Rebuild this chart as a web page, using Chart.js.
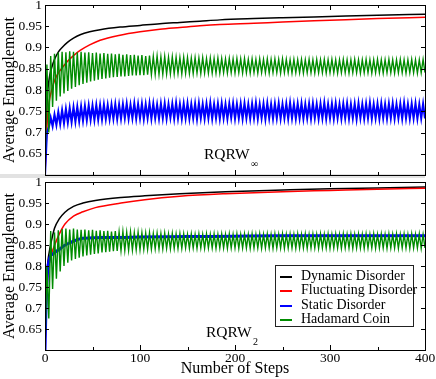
<!DOCTYPE html>
<html>
<head>
<meta charset="utf-8">
<script src="https://cdn.jsdelivr.net/npm/chart.js@4"></script>
<style>
  html, body { margin: 0; padding: 0; background: #fff; }
  #wrap { position: relative; width: 436px; height: 379px; overflow: hidden; font-family: 'Liberation Serif', serif; color: #000; }
  #wrap canvas { position: absolute; left: 0; }
  #gap { position: absolute; left: 0; top: 174px; width: 425px; height: 4px; background: #e2e2e2; }
  .tag { position: absolute; font-size: 15.5px; line-height: 16px; white-space: nowrap; }
  .sub { position: absolute; font-size: 10px; line-height: 10px; }
  #legend { position: absolute; left: 275px; top: 265px; width: 139px; height: 62px; box-sizing: border-box; border: 1px solid #222; background: #fff; }
  #legend div { position: absolute; left: 0; font-size: 14px; line-height: 14px; white-space: nowrap; }
  #legend b { display: inline-block; width: 12px; height: 1.6px; margin: 0 9px 0 4px; vertical-align: middle; }
</style>
</head>
<body>
<div id="wrap">
  <div id="gap"></div>
  <canvas id="topChart" width="436" height="177" style="top:0"></canvas>
  <canvas id="bottomChart" width="436" height="203" style="top:176px"></canvas>
  <div class="tag" style="left:204px; top:146px">RQRW</div>
  <div class="sub" style="left:251px; top:159px">∞</div>
  <div class="tag" style="left:206px; top:324px">RQRW</div>
  <div class="sub" style="left:253px; top:337px">2</div>
  <div id="legend">
    <div style="top:3px"><b style="background:#000"></b>Dynamic Disorder</div>
    <div style="top:17px"><b style="background:#f00"></b>Fluctuating Disorder</div>
    <div style="top:32px"><b style="background:#00f"></b>Static Disorder</div>
    <div style="top:46px"><b style="background:#008c00"></b>Hadamard Coin</div>
  </div>
</div>
<script>
// axis ticks
const xTicks = [0, 50, 100, 150, 200, 250, 300, 350, 400];
const yTicks = [0.6, 0.65, 0.7, 0.75, 0.8, 0.85, 0.9, 0.95, 1];

// smooth curves, upper panel (RQRW_inf)
const topSteps = [0, 1, 2, 3, 5, 7, 10, 14, 18, 23, 30, 37, 47, 58, 79, 100, 121, 142, 163, 184, 220, 250, 300, 350, 400];
const topDynamic = [0.60, 0.70, 0.76, 0.80, 0.835, 0.852, 0.872, 0.889, 0.900, 0.911, 0.922, 0.930, 0.937, 0.942, 0.948, 0.952, 0.956, 0.959, 0.962, 0.965, 0.968, 0.970, 0.973, 0.976, 0.978];
const topFluct = [0.60, 0.66, 0.71, 0.745, 0.78, 0.80, 0.822, 0.840, 0.852, 0.866, 0.881, 0.893, 0.906, 0.917, 0.929, 0.937, 0.943, 0.947, 0.951, 0.954, 0.957, 0.960, 0.964, 0.968, 0.971];

// smooth curves, lower panel (RQRW_2)
const botSteps = [0, 1, 2, 3, 5, 7, 10, 15, 21, 30, 40, 53, 80, 105, 142, 190, 250, 300, 350, 400];
const botDynamic = [0.60, 0.70, 0.78, 0.81, 0.84, 0.862, 0.89, 0.912, 0.928, 0.942, 0.950, 0.956, 0.963, 0.967, 0.972, 0.977, 0.981, 0.984, 0.986, 0.988];
const botFluct = [0.60, 0.68, 0.74, 0.78, 0.812, 0.83, 0.849, 0.876, 0.900, 0.919, 0.929, 0.939, 0.950, 0.958, 0.966, 0.972, 0.977, 0.980, 0.983, 0.985];
const botStaticSteps = [0, 1, 2, 3, 4, 5, 6, 8, 10, 12, 14, 16, 20, 24, 28, 32, 36, 40, 50, 60, 80, 100, 150, 200, 250, 300, 350, 400];
const botStatic = [0.60, 0.70, 0.76, 0.795, 0.81, 0.82, 0.825, 0.828, 0.832, 0.835, 0.838, 0.841, 0.848, 0.853, 0.857, 0.861, 0.864, 0.866, 0.867, 0.868, 0.868, 0.869, 0.870, 0.871, 0.872, 0.872, 0.872, 0.872];

// oscillating curves, one value every 2 steps (0, 2, 4 ... 400)
const oscSteps = Array.from({ length: 201 }, (_, i) => i * 2);

const topHadamard = [
  0.600, 0.860, 0.700, 0.880, 0.760, 0.885, 0.775, 0.888, 0.785, 0.890,
  0.792, 0.889, 0.798, 0.891, 0.803, 0.890, 0.807, 0.889, 0.811, 0.890,
  0.814, 0.888, 0.817, 0.889, 0.820, 0.887, 0.822, 0.888, 0.824, 0.886,
  0.826, 0.887, 0.827, 0.885, 0.829, 0.886, 0.830, 0.884, 0.831, 0.885,
  0.832, 0.883, 0.832, 0.884, 0.833, 0.882, 0.834, 0.883, 0.834, 0.881,
  0.835, 0.882, 0.835, 0.880, 0.836, 0.881, 0.836, 0.879, 0.837, 0.880,
  0.837, 0.878, 0.837, 0.879, 0.838, 0.877, 0.838, 0.878, 0.838, 0.877,
  0.839, 0.876, 0.838, 0.877, 0.839, 0.876, 0.839, 0.875, 0.839, 0.876,
  0.840, 0.875, 0.839, 0.876, 0.840, 0.874, 0.840, 0.875, 0.840, 0.874,
  0.840, 0.875, 0.840, 0.874, 0.841, 0.873, 0.840, 0.874, 0.841, 0.873,
  0.840, 0.874, 0.841, 0.873, 0.840, 0.874, 0.841, 0.872, 0.840, 0.873,
  0.841, 0.872, 0.840, 0.873, 0.841, 0.872, 0.841, 0.873, 0.840, 0.872,
  0.841, 0.873, 0.841, 0.872, 0.840, 0.873, 0.841, 0.872, 0.841, 0.871,
  0.840, 0.872, 0.841, 0.871, 0.841, 0.872, 0.840, 0.871, 0.841, 0.872,
  0.841, 0.871, 0.840, 0.872, 0.841, 0.871, 0.841, 0.872, 0.840, 0.871,
  0.841, 0.872, 0.841, 0.871, 0.840, 0.871, 0.841, 0.872, 0.841, 0.871,
  0.840, 0.871, 0.841, 0.872, 0.841, 0.871, 0.840, 0.871, 0.841, 0.872,
  0.841, 0.871, 0.840, 0.871, 0.841, 0.872, 0.841, 0.871, 0.840, 0.871,
  0.841, 0.872, 0.841, 0.871, 0.840, 0.871, 0.841, 0.872, 0.841, 0.871,
  0.840, 0.871, 0.841, 0.872, 0.841, 0.871, 0.840, 0.871, 0.841, 0.872,
  0.841
];

const topStatic = [
  0.600, 0.700, 0.712, 0.735, 0.715, 0.742, 0.718, 0.748, 0.720, 0.752,
  0.722, 0.755, 0.724, 0.757, 0.725, 0.759, 0.726, 0.760, 0.727, 0.761,
  0.728, 0.762, 0.729, 0.763, 0.730, 0.763, 0.730, 0.764, 0.731, 0.764,
  0.731, 0.765, 0.732, 0.764, 0.732, 0.765, 0.733, 0.766, 0.732, 0.765,
  0.733, 0.766, 0.734, 0.767, 0.733, 0.765, 0.734, 0.768, 0.733, 0.766,
  0.734, 0.767, 0.732, 0.766, 0.734, 0.768, 0.733, 0.767, 0.734, 0.765,
  0.733, 0.767, 0.734, 0.768, 0.733, 0.766, 0.735, 0.767, 0.733, 0.769,
  0.734, 0.766, 0.733, 0.767, 0.734, 0.768, 0.733, 0.766, 0.734, 0.767,
  0.732, 0.768, 0.734, 0.766, 0.733, 0.767, 0.734, 0.769, 0.733, 0.766,
  0.734, 0.767, 0.733, 0.768, 0.734, 0.766, 0.733, 0.767, 0.735, 0.768,
  0.733, 0.766, 0.734, 0.767, 0.733, 0.768, 0.734, 0.766, 0.733, 0.767,
  0.734, 0.769, 0.733, 0.766, 0.734, 0.767, 0.732, 0.768, 0.734, 0.766,
  0.733, 0.767, 0.734, 0.768, 0.733, 0.766, 0.734, 0.767, 0.733, 0.769,
  0.734, 0.766, 0.733, 0.767, 0.734, 0.768, 0.733, 0.766, 0.734, 0.767,
  0.733, 0.768, 0.734, 0.766, 0.733, 0.767, 0.734, 0.769, 0.733, 0.766,
  0.734, 0.767, 0.733, 0.768, 0.734, 0.766, 0.733, 0.767, 0.734, 0.768,
  0.733, 0.766, 0.734, 0.767, 0.732, 0.768, 0.734, 0.766, 0.733, 0.767,
  0.734, 0.769, 0.733, 0.766, 0.734, 0.767, 0.733, 0.768, 0.734, 0.766,
  0.733, 0.767, 0.734, 0.768, 0.733, 0.766, 0.734, 0.767, 0.733, 0.769,
  0.734, 0.766, 0.733, 0.767, 0.734, 0.768, 0.733, 0.766, 0.734, 0.767,
  0.733
];

const botHadamard = [
  0.600, 0.800, 0.675, 0.883, 0.745, 0.880, 0.770, 0.885, 0.787, 0.888,
  0.800, 0.889, 0.808, 0.887, 0.813, 0.889, 0.817, 0.887, 0.820, 0.886,
  0.823, 0.887, 0.825, 0.885, 0.827, 0.886, 0.829, 0.884, 0.830, 0.885,
  0.832, 0.883, 0.833, 0.884, 0.834, 0.882, 0.835, 0.883, 0.836, 0.881,
  0.837, 0.882, 0.837, 0.880, 0.838, 0.881, 0.838, 0.879, 0.839, 0.880,
  0.839, 0.879, 0.840, 0.878, 0.840, 0.879, 0.840, 0.877, 0.841, 0.878,
  0.841, 0.877, 0.841, 0.878, 0.842, 0.876, 0.841, 0.877, 0.842, 0.876,
  0.842, 0.877, 0.842, 0.876, 0.843, 0.875, 0.842, 0.876, 0.843, 0.875,
  0.842, 0.876, 0.843, 0.875, 0.842, 0.876, 0.843, 0.875, 0.843, 0.876,
  0.842, 0.875, 0.843, 0.876, 0.843, 0.875, 0.842, 0.876, 0.843, 0.875,
  0.843, 0.876, 0.842, 0.875, 0.843, 0.876, 0.843, 0.875, 0.842, 0.876,
  0.843, 0.875, 0.843, 0.876, 0.842, 0.875, 0.843, 0.876, 0.843, 0.875,
  0.842, 0.876, 0.843, 0.875, 0.843, 0.876, 0.842, 0.875, 0.843, 0.876,
  0.843, 0.875, 0.842, 0.876, 0.843, 0.875, 0.843, 0.876, 0.842, 0.875,
  0.843, 0.876, 0.843, 0.875, 0.842, 0.876, 0.843, 0.875, 0.843, 0.876,
  0.842, 0.875, 0.843, 0.876, 0.843, 0.875, 0.842, 0.876, 0.843, 0.875,
  0.843, 0.876, 0.842, 0.875, 0.843, 0.876, 0.843, 0.875, 0.842, 0.876,
  0.843, 0.875, 0.843, 0.876, 0.842, 0.875, 0.843, 0.876, 0.843, 0.875,
  0.842, 0.876, 0.843, 0.875, 0.843, 0.876, 0.842, 0.875, 0.843, 0.876,
  0.843, 0.875, 0.842, 0.876, 0.843, 0.875, 0.843, 0.876, 0.842, 0.875,
  0.843
];

const COLORS = { dynamic: '#000000', fluct: '#ff0000', stat: '#0000ff', hadamard: '#008c00' };
const FONT = 'Liberation Serif';

function pts(steps, values) {
  return steps.map((s, i) => ({ x: s, y: values[i] }));
}

function line(label, steps, values, color, order, extra = {}) {
  return {
    label,
    data: pts(steps, values),
    borderColor: color,
    backgroundColor: color,
    borderWidth: 1.5,
    pointRadius: 0,
    fill: false,
    order,
    ...extra,
  };
}

// inward ticks + full box, like the original plot frame
const frameTicks = {
  id: 'frameTicks',
  afterDatasetsDraw(chart) {
    const { ctx, chartArea: a, scales: { x, y } } = chart;
    ctx.save();
    ctx.strokeStyle = '#000';
    ctx.lineWidth = 1;
    ctx.beginPath();
    xTicks.forEach((v) => {
      const px = Math.round(x.getPixelForValue(v)) + 0.5;
      const len = v % 100 === 0 ? 5 : 3;
      ctx.moveTo(px, a.bottom); ctx.lineTo(px, a.bottom - len);
      ctx.moveTo(px, a.top); ctx.lineTo(px, a.top + len);
    });
    yTicks.forEach((v) => {
      const py = Math.round(y.getPixelForValue(v)) + 0.5;
      ctx.moveTo(a.left, py); ctx.lineTo(a.left + 4, py);
      ctx.moveTo(a.right, py); ctx.lineTo(a.right - 4, py);
    });
    ctx.stroke();
    ctx.strokeRect(Math.round(a.left) + 0.5, Math.round(a.top) + 0.5, Math.round(a.right - a.left), Math.round(a.bottom - a.top));
    ctx.restore();
  },
};

function yScale() {
  return {
    min: 0.6,
    max: 1,
    grid: { display: false, drawTicks: false },
    border: { display: false },
    ticks: {
      stepSize: 0.05,
      padding: 3,
      color: '#000',
      font: { family: FONT, size: 13.5 },
      callback: (v) => (v < 0.62 ? '' : String(+v.toFixed(2))),
    },
    title: {
      display: true,
      text: 'Average Entanglement',
      color: '#000',
      font: { family: FONT, size: 16 },
      padding: { top: 0, bottom: 0 },
    },
    afterFit(scale) {
      scale.width = 45;
      scale.paddingTop = 0;
      scale.paddingBottom = 0;
    },
  };
}

function baseOptions(xOpts, padding) {
  return {
    responsive: false,
    animation: false,
    events: [],
    layout: { padding },
    plugins: { legend: { display: false }, tooltip: { enabled: false } },
    scales: { x: xOpts, y: yScale() },
  };
}

Chart.defaults.font.family = FONT;

new Chart(document.getElementById('topChart'), {
  type: 'line',
  data: {
    datasets: [
      line('Dynamic Disorder', topSteps, topDynamic, COLORS.dynamic, 3, { cubicInterpolationMode: 'monotone' }),
      line('Fluctuating Disorder', topSteps, topFluct, COLORS.fluct, 2, { cubicInterpolationMode: 'monotone' }),
      line('Static Disorder', oscSteps, topStatic, COLORS.stat, 1, { borderWidth: 2.1 }),
      line('Hadamard Coin', oscSteps, topHadamard, COLORS.hadamard, 0, { borderWidth: 1.4 }),
    ],
  },
  options: baseOptions(
    { type: 'linear', min: 0, max: 400, display: false },
    { top: 5, right: 11, bottom: 2, left: 0 }
  ),
  plugins: [frameTicks],
});

new Chart(document.getElementById('bottomChart'), {
  type: 'line',
  data: {
    datasets: [
      line('Dynamic Disorder', botSteps, botDynamic, COLORS.dynamic, 3, { cubicInterpolationMode: 'monotone' }),
      line('Fluctuating Disorder', botSteps, botFluct, COLORS.fluct, 2, { cubicInterpolationMode: 'monotone' }),
      line('Static Disorder', botStaticSteps, botStatic, COLORS.stat, 1, { borderWidth: 3, cubicInterpolationMode: 'monotone' }),
      line('Hadamard Coin', oscSteps, botHadamard, COLORS.hadamard, 0, { borderWidth: 1.4 }),
    ],
  },
  options: baseOptions(
    {
      type: 'linear',
      min: 0,
      max: 400,
      grid: { display: false, drawTicks: false },
      border: { display: false },
      ticks: {
        stepSize: 100,
        padding: 0,
        maxRotation: 0,
        color: '#000',
        font: { family: FONT, size: 13.5 },
      },
      title: {
        display: true,
        text: 'Number of Steps',
        color: '#000',
        font: { family: FONT, size: 16 },
        padding: { top: 0, bottom: 1 },
      },
      afterFit(scale) {
        scale.height = 29;
        scale.paddingLeft = 0;
        scale.paddingRight = 0;
      },
    },
    { top: 6, right: 11, bottom: 0, left: 0 }
  ),
  plugins: [frameTicks],
});
</script>
</body>
</html>
